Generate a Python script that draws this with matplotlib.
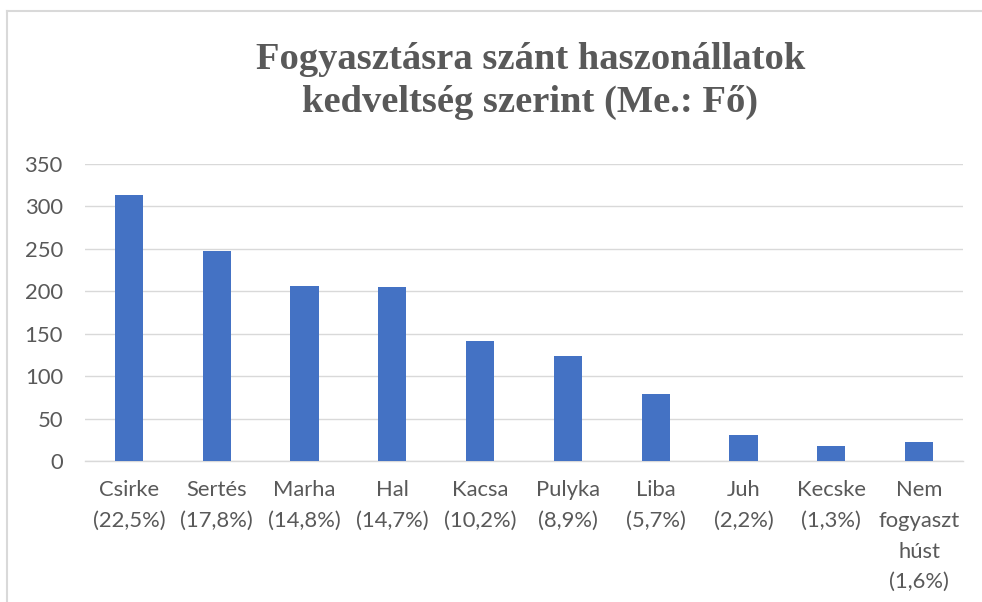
import matplotlib
matplotlib.use("Agg")
import matplotlib.pyplot as plt
from matplotlib.lines import Line2D

# adatok (kepről leolvasva)
kategoriak = ["Csirke\n(22,5%)", "Sertés\n(17,8%)", "Marha\n(14,8%)", "Hal\n(14,7%)",
              "Kacsa\n(10,2%)", "Pulyka\n(8,9%)", "Liba\n(5,7%)", "Juh\n(2,2%)",
              "Kecske\n(1,3%)", "Nem\nfogyaszt\nhúst\n(1,6%)"]
ertekek = [313, 248, 206, 205, 142, 124, 79, 31, 18, 22]
y_tickek = [0, 50, 100, 150, 200, 250, 300, 350]

kek = "#4472C4"
szurke = "#595959"
racs = "#D9D9D9"

fig = plt.figure(figsize=(9.82, 6.02), dpi=100)
ax = fig.add_axes([0.0866, 0.2342, 0.894, 0.4934])

x = range(len(kategoriak))
ax.bar(x, ertekek, width=0.32, color=kek, zorder=3)

ax.set_xlim(-0.5, len(kategoriak) - 0.5)
ax.set_ylim(0, 350)
ax.set_yticks(y_tickek)
ax.set_xticks(list(x))
ax.set_xticklabels(kategoriak, fontsize=15.8, color=szurke, family="Lato", linespacing=1.66)
ax.set_yticklabels([str(v) for v in y_tickek], fontsize=15.8, color=szurke, family="Lato")
ax.tick_params(axis="both", length=0)
ax.tick_params(axis="x", pad=14)
ax.tick_params(axis="y", pad=16)
ax.grid(axis="y", color=racs, linewidth=1, zorder=0)
for s in ["top", "right", "left"]:
    ax.spines[s].set_visible(False)
ax.spines["bottom"].set_color(racs)
ax.spines["bottom"].set_linewidth(1)

fig.text(0.54, 0.8655, "Fogyasztásra szánt haszonállatok\nkedveltség szerint (Me.: Fő)",
         ha="center", va="center", fontsize=27.7, fontweight="bold", color=szurke,
         family="Liberation Serif", linespacing=1.3)

# keret
fig.add_artist(Line2D([7 / 982, 1], [1 - 11 / 602, 1 - 11 / 602], transform=fig.transFigure,
                      color=racs, linewidth=1.5))
fig.add_artist(Line2D([7 / 982, 7 / 982], [0, 1 - 11 / 602], transform=fig.transFigure,
                      color=racs, linewidth=1.5))

fig.savefig("out.png", dpi=100)
